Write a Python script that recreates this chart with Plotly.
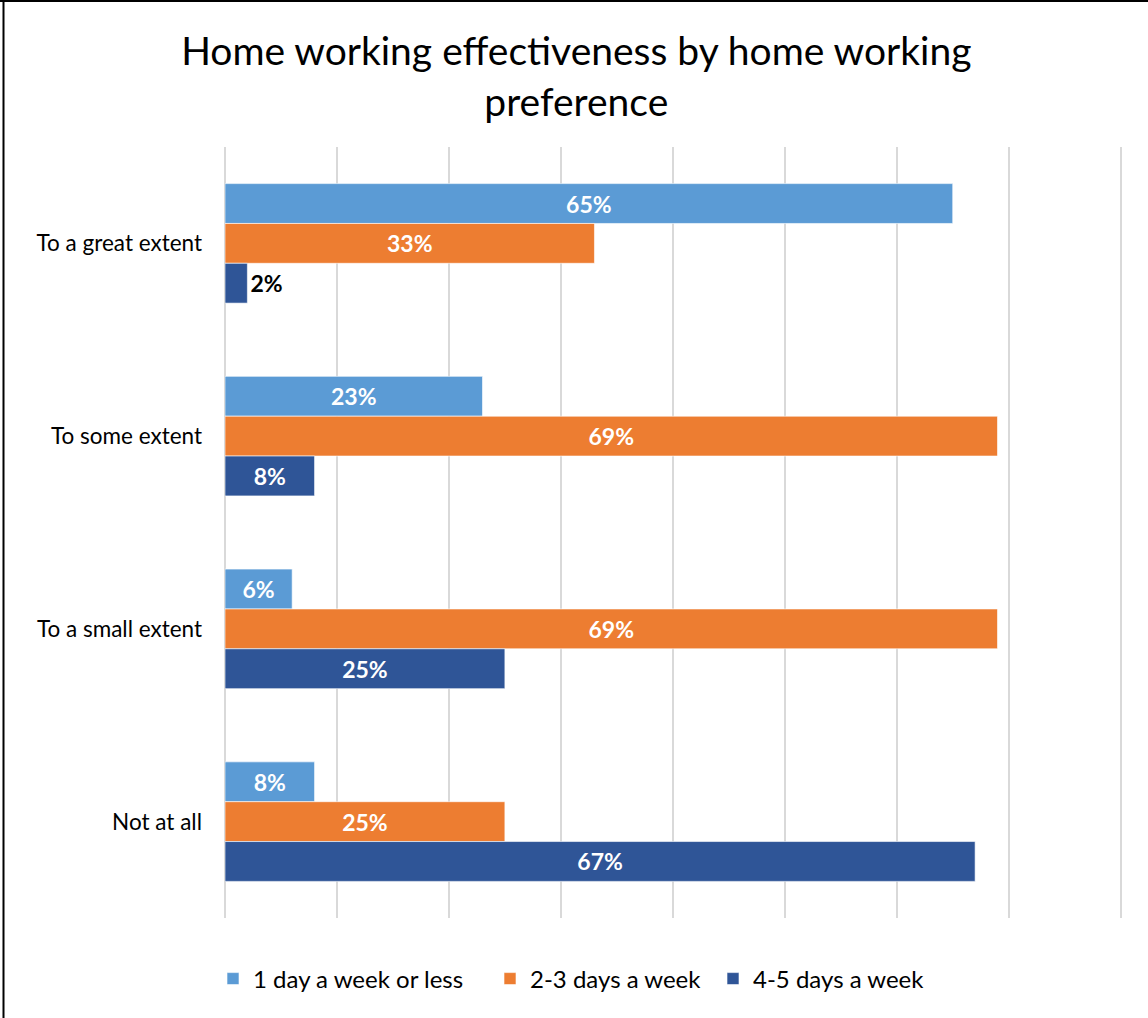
import plotly.graph_objects as go

categories = ["To a great extent", "To some extent", "To a small extent", "Not at all"]
series_names = ["1 day a week or less", "2-3 days a week", "4-5 days a week"]
one_day_or_less = [0.65, 0.23, 0.06, 0.08]
two_three_days = [0.33, 0.69, 0.69, 0.25]
four_five_days = [0.02, 0.08, 0.25, 0.67]
series_values = [one_day_or_less, two_three_days, four_five_days]
colors = ["#5B9BD5", "#ED7D31", "#2F5597"]

W, H = 1148, 1018
ML, MR, MT, MB = 225, 26, 147, 100
FONT = "Lato, Carlito, Calibri, sans-serif"

# each series gets its own legend box so the entries can be spaced freely
legend_ids = ["legend", "legend2", "legend3"]
legend_left_px = [213, 490, 713]

fig = go.Figure()
for name, vals, col, lid in zip(series_names, series_values, colors, legend_ids):
    fig.add_trace(go.Bar(
        y=categories,
        x=vals,
        name=name,
        legend=lid,
        showlegend=True,
        orientation="h",
        marker=dict(color=col, line=dict(color="rgba(255,255,255,0.6)", width=1)),
        texttemplate="%{x:.0%}",
        textposition="auto",
        insidetextanchor="middle",
        textangle=0,
        constraintext="none",
        insidetextfont=dict(family=FONT, size=23, color="white", weight="bold"),
        outsidetextfont=dict(family=FONT, size=23, color="black", weight="bold"),
        cliponaxis=False,
    ))

# convert pixel positions of the outer frame to paper coordinates
def px_x(p):
    return (p - ML) / (W - ML - MR)

def px_y(p):
    return 1 - (p - MT) / (H - MT - MB)

legend_style = dict(
    orientation="h",
    xref="container", xanchor="left",
    yref="container", y=1 - 979 / H, yanchor="middle",
    font=dict(family=FONT, size=24, color="black"),
    bgcolor="rgba(0,0,0,0)",
)

fig.update_layout(
    width=W,
    height=H,
    margin=dict(l=ML, r=MR, t=MT, b=MB),
    paper_bgcolor="white",
    plot_bgcolor="white",
    showlegend=True,
    barmode="group",
    bargap=0.38,
    bargroupgap=0,
    font=dict(family=FONT, color="black"),
    title=dict(
        text="Home working effectiveness by home working<br>preference",
        font=dict(family=FONT, size=39, color="black"),
        xref="container", x=0.502, xanchor="center",
        yref="container", y=1 - 65 / H, yanchor="middle",
    ),
    xaxis=dict(
        range=[0, 0.8012],
        dtick=0.1,
        showgrid=True,
        gridcolor="#d9d9d9",
        gridwidth=1.5,
        zeroline=True,
        zerolinecolor="#d9d9d9",
        zerolinewidth=1.5,
        showticklabels=False,
        showline=False,
        fixedrange=True,
    ),
    yaxis=dict(
        autorange="reversed",
        showgrid=False,
        showline=False,
        ticks="",
        ticklabelstandoff=22,
        tickfont=dict(family=FONT, size=22.5, color="black"),
    ),
    legend=dict(legend_style, x=legend_left_px[0] / W),
    legend2=dict(legend_style, x=legend_left_px[1] / W),
    legend3=dict(legend_style, x=legend_left_px[2] / W),
    shapes=[
        dict(type="line", xref="paper", yref="paper",
             x0=px_x(3.5), x1=px_x(3.5), y0=px_y(0), y1=px_y(H),
             line=dict(color="black", width=2)),
        dict(type="line", xref="paper", yref="paper",
             x0=px_x(0), x1=px_x(W), y0=px_y(1), y1=px_y(1),
             line=dict(color="black", width=2)),
    ],
)

fig.write_html("out.html")
